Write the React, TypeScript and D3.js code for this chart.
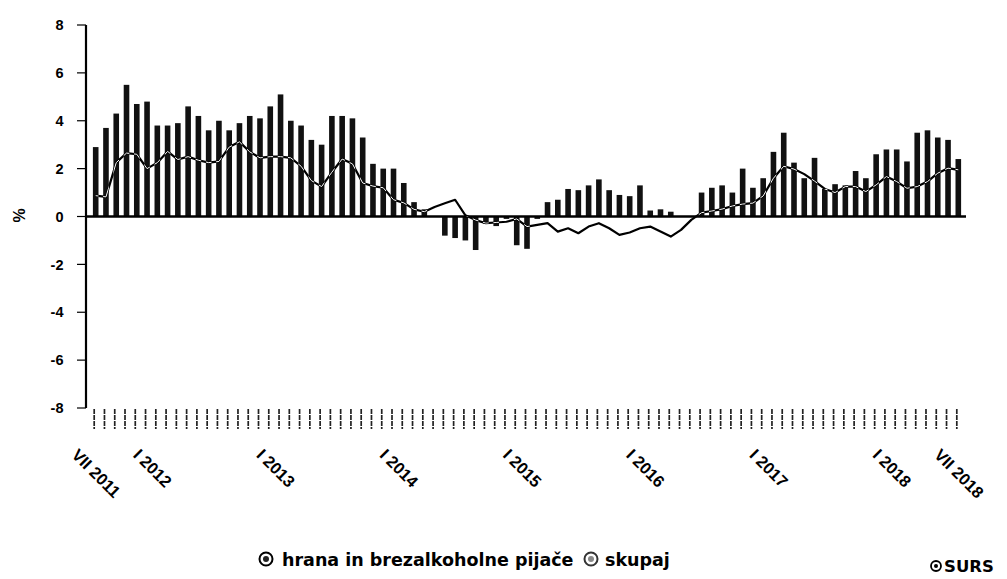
import React from "react";
import * as d3 from "d3";

const romanMonths = ["I", "II", "III", "IV", "V", "VI", "VII", "VIII", "IX", "X", "XI", "XII"];
const startYear = 2011;
const startMonthIndex = 6; // VII
const monthCount = 85;
const categories: string[] = Array.from({ length: monthCount }, (_, i) => {
  const m = startMonthIndex + i;
  return `${romanMonths[m % 12]} ${startYear + Math.floor(m / 12)}`;
});

// hrana in brezalkoholne pijače (bars)
const foodValues = [
  2.9, 3.7, 4.3, 5.5, 4.7, 4.8, 3.8, 3.8, 3.9, 4.6,
  4.2, 3.6, 4.0, 3.6, 3.9, 4.2, 4.1, 4.6, 5.1, 4.0,
  3.8, 3.2, 3.0, 4.2, 4.2, 4.1, 3.3, 2.2, 2.0, 2.0,
  1.4, 0.6, 0.3, 0.0, -0.8, -0.9, -1.0, -1.4, -0.3, -0.4,
  -0.1, -1.2, -1.35, -0.1, 0.6, 0.7, 1.15, 1.1, 1.3, 1.55,
  1.1, 0.9, 0.85, 1.3, 0.25, 0.3, 0.2, 0.0, 0.0, 1.0,
  1.2, 1.3, 1.0, 2.0, 1.2, 1.6, 2.7, 3.5, 2.25, 1.6,
  2.45, 1.15, 1.35, 1.3, 1.9, 1.6, 2.6, 2.8, 2.8, 2.3,
  3.5, 3.6, 3.3, 3.2, 2.4,
];

// skupaj (line)
const totalValues = [
  0.87, 0.82, 2.25, 2.65, 2.6, 2.0, 2.25, 2.72, 2.38, 2.5,
  2.35, 2.25, 2.3, 2.9, 3.12, 2.7, 2.45, 2.5, 2.5, 2.45,
  2.1, 1.5, 1.25, 1.85, 2.4, 2.2, 1.4, 1.27, 1.2, 0.7,
  0.57, 0.3, 0.2, 0.4, 0.55, 0.7, 0.05, -0.15, -0.28, -0.25,
  -0.22, -0.1, -0.42, -0.35, -0.28, -0.63, -0.49, -0.7, -0.42, -0.28,
  -0.49, -0.77, -0.67, -0.49, -0.42, -0.63, -0.84, -0.56, -0.14, 0.16,
  0.23, 0.31, 0.44, 0.52, 0.56, 0.86, 1.6, 2.1, 1.98, 1.77,
  1.48, 1.15, 1.0, 1.25, 1.25, 1.04, 1.32, 1.67, 1.46, 1.18,
  1.25, 1.46, 1.81, 2.02, 1.95,
];

const yTicks = [-8, -6, -4, -2, 0, 2, 4, 6, 8];
const xTickLabels = ["VII 2011", "I 2012", "I 2013", "I 2014", "I 2015", "I 2016", "I 2017", "I 2018", "VII 2018"];
const legendLabels = ["hrana in brezalkoholne pijače", "skupaj"];
const sourceLabel = "SURS";
const yAxisTitle = "%";

const W = 1007;
const H = 579;

export default function App() {
  const x = d3.scaleLinear().domain([0, monthCount - 1]).range([95.7, 958.3]);
  const y = d3.scaleLinear().domain([-8, 8]).range([408, 25]);
  const barW = 5.6;
  const axisX = 86;

  const line = d3
    .line<number>()
    .x((_, i) => x(i))
    .y((d) => y(d));
  const linePath = line(totalValues) || "";

  const labelFont = "'Liberation Sans', Arial, sans-serif";
  const legendFont = "'DejaVu Sans', sans-serif";

  return (
    <svg
      width={W}
      height={H}
      viewBox={`0 0 ${W} ${H}`}
      style={{ position: "absolute", left: 0, top: 0, background: "#fff" }}
    >
      <defs>
        <clipPath id="barsClip">
          {foodValues.map((v, i) => (
            <rect
              key={i}
              x={x(i) - barW / 2}
              y={Math.min(y(v), y(0))}
              width={barW}
              height={Math.abs(y(v) - y(0))}
            />
          ))}
        </clipPath>
      </defs>
      <rect width={W} height={H} fill="#fff" />

      {/* Y axis */}
      <line x1={axisX} x2={axisX} y1={y(8)} y2={y(-8)} stroke="#000" strokeWidth={2.2} />
      {yTicks.map((t) => (
        <g key={t}>
          <line x1={77} x2={axisX} y1={y(t)} y2={y(t)} stroke="#000" strokeWidth={1.2} />
          <text
            x={63.5}
            y={y(t)}
            dy="0.36em"
            textAnchor="end"
            fontFamily={labelFont}
            fontWeight="bold"
            fontSize={14.5}
            fill="#000"
          >
            {t}
          </text>
        </g>
      ))}
      <text
        transform={`translate(25,${y(0) - 1}) rotate(-90)`}
        textAnchor="middle"
        fontFamily={labelFont}
        fontWeight="bold"
        fontSize={16}
        fill="#000"
      >
        {yAxisTitle}
      </text>

      {/* Bars */}
      {foodValues.map((v, i) => (
        <rect
          key={i}
          x={x(i) - barW / 2}
          y={Math.min(y(v), y(0))}
          width={barW}
          height={Math.abs(y(v) - y(0))}
          fill="#111"
        />
      ))}

      {/* Zero line */}
      <line x1={axisX} x2={966} y1={y(0)} y2={y(0)} stroke="#000" strokeWidth={2.6} />

      {/* Line: black outside bars, white inside bars */}
      <path d={linePath} fill="none" stroke="#000" strokeWidth={2.2} strokeLinejoin="round" />
      <path
        d={linePath}
        fill="none"
        stroke="#fff"
        strokeWidth={1}
        strokeLinejoin="round"
        clipPath="url(#barsClip)"
      />

      {/* Bottom month ticks */}
      {categories.map((c, i) => (
        <line
          key={c}
          x1={x(i) - 1.5}
          x2={x(i) - 1.5}
          y1={409}
          y2={429}
          stroke="#222"
          strokeWidth={1.7}
          strokeDasharray="5 1"
        />
      ))}

      {/* X tick labels */}
      {xTickLabels.map((lab) => {
        const idx = categories.indexOf(lab);
        const tx = x(idx) - 25;
        const ty = 456;
        return (
          <text
            key={lab}
            transform={`translate(${tx},${ty}) rotate(45)`}
            fontFamily={labelFont}
            fontWeight="bold"
            fontSize={16.5}
            fill="#000"
          >
            {lab}
          </text>
        );
      })}

      {/* Legend */}
      <g>
        <circle cx={266} cy={559} r={6.5} fill="#fff" stroke="#000" strokeWidth={2} />
        <circle cx={266} cy={559} r={3} fill="#222" />
        <text x={282} y={566} fontFamily={legendFont} fontWeight="bold" fontSize={17.5} fill="#000">
          {legendLabels[0]}
        </text>
        <circle cx={591} cy={559} r={6.5} fill="#fff" stroke="#333" strokeWidth={2} />
        <circle cx={591} cy={559} r={3} fill="#888" />
        <text x={605} y={566} fontFamily={legendFont} fontWeight="bold" fontSize={17.5} fill="#000">
          {legendLabels[1]}
        </text>
      </g>

      {/* Source */}
      <circle cx={936} cy={566} r={5} fill="#fff" stroke="#000" strokeWidth={1.8} />
      <circle cx={936} cy={566} r={2} fill="#000" />
      <text x={944} y={572} fontFamily={legendFont} fontWeight="bold" fontSize={16.5} fill="#000">
        {sourceLabel}
      </text>
    </svg>
  );
}
